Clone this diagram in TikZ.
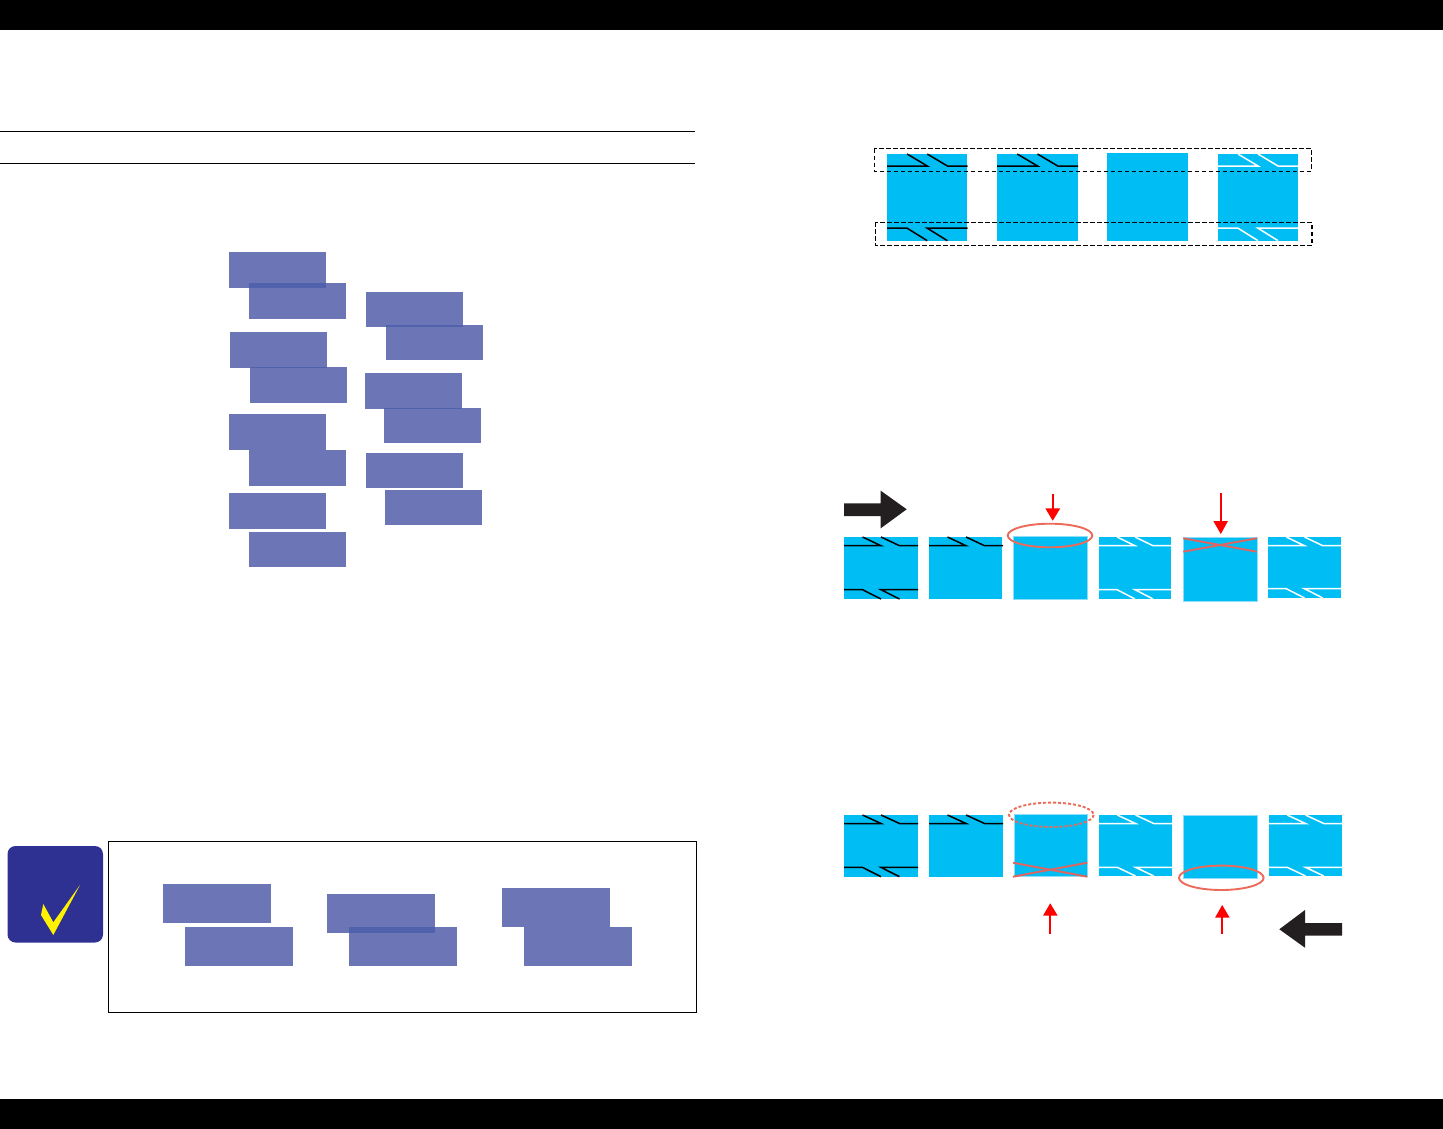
\documentclass[tikz,border=0pt]{standalone}
\definecolor{barblue}{HTML}{6C76B6}
\definecolor{barover}{HTML}{5062AC}
\definecolor{cyanblock}{HTML}{00BEF4}
\definecolor{cyanedge}{HTML}{8FDDF8}
\definecolor{navy}{HTML}{2E3192}
\definecolor{darkarrow}{HTML}{231F20}
\definecolor{markred}{HTML}{EC6A5A}
\definecolor{crossred}{HTML}{E2645E}
\tikzset{
  barrect/.style={fill=barblue,draw=none},
  overrect/.style={fill=barover,draw=none},
  block/.style={fill=cyanblock,draw=none},
  blockedge/.style={fill=cyanblock,draw=cyanedge,line width=0.6pt},
  rule/.style={draw=black,line width=1pt},
  dashbox/.style={draw=black,line width=1.1pt,dash pattern=on 4.5pt off 2.5pt},
  ring/.style={draw=markred,line width=1.9pt},
  dashring/.style={draw=markred,line width=1.9pt,dash pattern=on 3pt off 2pt},
  crossline/.style={draw=crossred,line width=1.9pt},
  redshaft/.style={draw=red,line width=1.9pt},
  redhead/.style={fill=red,draw=none},
  bigarrow/.style={fill=darkarrow,draw=none},
}
% upper marks: left x, top y, width, drop, colour
\newcommand{\uppermarks}[5]{%
  \draw[#5,line width=1.5pt,line join=miter] (#1,#2+#4) -- ++(#3/2,0) -- (#1+#3/4,#2);
  \draw[#5,line width=1.5pt,line join=miter] (#1+#3/2,#2) -- (#1+#3*0.75,#2+#4) -- (#1+#3,#2+#4);
}
% lower marks: left x, bottom y, width, rise, colour
\newcommand{\lowermarks}[5]{%
  \draw[#5,line width=1.5pt,line join=miter] (#1,#2-#4) -- ++(#3/4,0) -- (#1+#3/2,#2);
  \draw[#5,line width=1.5pt,line join=miter] (#1+#3,#2-#4) -- (#1+#3/2,#2-#4) -- (#1+#3*0.75,#2);
}
\begin{document}
\begin{tikzpicture}[x=1pt,y=-1pt]
\useasboundingbox (0,0) rectangle (1443,1129);
\fill[white] (0,0) rectangle (1443,1129);
% page bars and rules
\fill[black] (0,0) rectangle (1443,30);
\fill[black] (0,1098.7) rectangle (1443,1129);
\draw[rule] (0,131.5) -- (695,131.5);
\draw[rule] (0,163.5) -- (695,163.5);

% left bars
\foreach \xa/\ya/\xb/\yb in {229/252/326/288,249/283/346/319,230/332/327/368,250/367/347/403,
  229/414/326/450,249/450/346/486,229/493/326/529,249/532/346/567,
  366/292/463/327,386/325/483/360,365/373/462/409,384/408/481/443,366/453/463/488,385/490/482/525,
  163/884/271/923,185/927/293/966,327/894/435/933,349/927/457/966,502/888/610/927,524/927/632/966}
  \fill[barrect] (\xa,\ya) rectangle (\xb,\yb);
\fill[overrect] (249,283) rectangle (326,288);
\fill[overrect] (250,367) rectangle (327,368);
\fill[overrect] (386,325) rectangle (463,327);
\fill[overrect] (384,408) rectangle (462,409);
\fill[overrect] (349,927) rectangle (435,933);

% note box and check icon
\draw[rule] (108.5,841.5) rectangle (696.5,1012.5);
\fill[navy,rounded corners=8pt] (7.5,846) rectangle (103,942.5);
\fill[yellow] (43.3,904) -- (41,915) -- (53.3,935) -- (80,885) -- (53.3,922.3) -- cycle;

% top row
\fill[block] (887,154) rectangle (967,240.7);
\fill[block] (997,154) rectangle (1078,240.7);
\fill[block] (1107,153) rectangle (1188,240.7);
\fill[block] (1218,154) rectangle (1298,240.7);
\uppermarks{887}{154}{80.5}{12}{black}
\lowermarks{887}{240.7}{80.5}{12.5}{black}
\uppermarks{997}{154}{81}{12}{black}
\uppermarks{1218}{154}{80}{12}{white}
\lowermarks{1218}{240.7}{80}{12.5}{white}
\draw[dashbox] (874.3,148.7) rectangle (1311.3,171.3);
\draw[dashbox] (875.3,222.3) rectangle (1312,245.3);

% middle row
\fill[block] (844,537) rectangle (918,599);
\fill[block] (929,537) rectangle (1002,599);
\filldraw[blockedge] (1013,536) rectangle (1087,599.3);
\fill[block] (1099,537) rectangle (1171,599);
\filldraw[blockedge] (1183,537.7) rectangle (1257,601);
\fill[block] (1268,537) rectangle (1341,598);
\uppermarks{844}{537}{74}{8.7}{black}
\lowermarks{844}{599}{74}{9.3}{black}
\uppermarks{929}{537}{74}{8.7}{black}
\uppermarks{1099}{537}{72}{8.7}{white}
\lowermarks{1099}{599}{72}{9.3}{white}
\uppermarks{1268}{537}{73}{8.7}{white}
\lowermarks{1268}{598}{73}{9.3}{white}
\draw[ring] (1050,535.5) ellipse [x radius=42.3,y radius=11.8];
\draw[crossline] (1183.3,538.3) -- (1256.7,551.7);
\draw[crossline] (1183.3,551.7) -- (1256.7,538.3);
\fill[bigarrow] (844,503.3) -- (880.7,503.3) -- (880.7,490.7) -- (906.7,509.3) -- (880.7,528.3) -- (880.7,516) -- (844,516) -- cycle;
\draw[redshaft] (1052.7,494) -- (1052.7,509);
\fill[redhead] (1045.3,508.3) -- (1060.3,508.3) -- (1052.7,520.7) -- cycle;
\draw[redshaft] (1221,493) -- (1221,522);
\fill[redhead] (1213.3,521) -- (1228,521) -- (1220.8,534) -- cycle;

% lower row
\fill[block] (844,815) rectangle (918,876.7);
\fill[block] (929,815) rectangle (1003,876.7);
\filldraw[blockedge] (1014,814) rectangle (1087.3,876.7);
\fill[block] (1099,815) rectangle (1172,876);
\filldraw[blockedge] (1183.3,815.7) rectangle (1257.3,878.3);
\fill[block] (1269,815) rectangle (1342,876);
\uppermarks{844}{815}{74}{8.5}{black}
\lowermarks{844}{876.7}{74}{9.3}{black}
\uppermarks{929}{815}{74}{8.5}{black}
\uppermarks{1099}{815}{73}{8.5}{white}
\lowermarks{1099}{876}{73}{8.7}{white}
\uppermarks{1269}{815}{73}{8.5}{white}
\lowermarks{1269}{876}{73}{8.7}{white}
\draw[dashring] (1051.3,814.8) ellipse [x radius=42.3,y radius=12.2];
\draw[crossline] (1013,862.7) -- (1087.3,876.7);
\draw[crossline] (1013,876.7) -- (1087.3,862.7);
\draw[ring] (1221.3,877.8) ellipse [x radius=42.3,y radius=12.2];
\draw[redshaft] (1050,915) -- (1050,934);
\fill[redhead] (1043,915.7) -- (1057.7,915.7) -- (1050.2,903.3) -- cycle;
\draw[redshaft] (1222,917) -- (1222,934);
\fill[redhead] (1215,917.7) -- (1229.7,917.7) -- (1222.2,905) -- cycle;
\fill[bigarrow] (1342,923) -- (1305,923) -- (1305,910) -- (1279.3,929.3) -- (1305,947.7) -- (1305,935.7) -- (1342,935.7) -- cycle;
\end{tikzpicture}
\end{document}
